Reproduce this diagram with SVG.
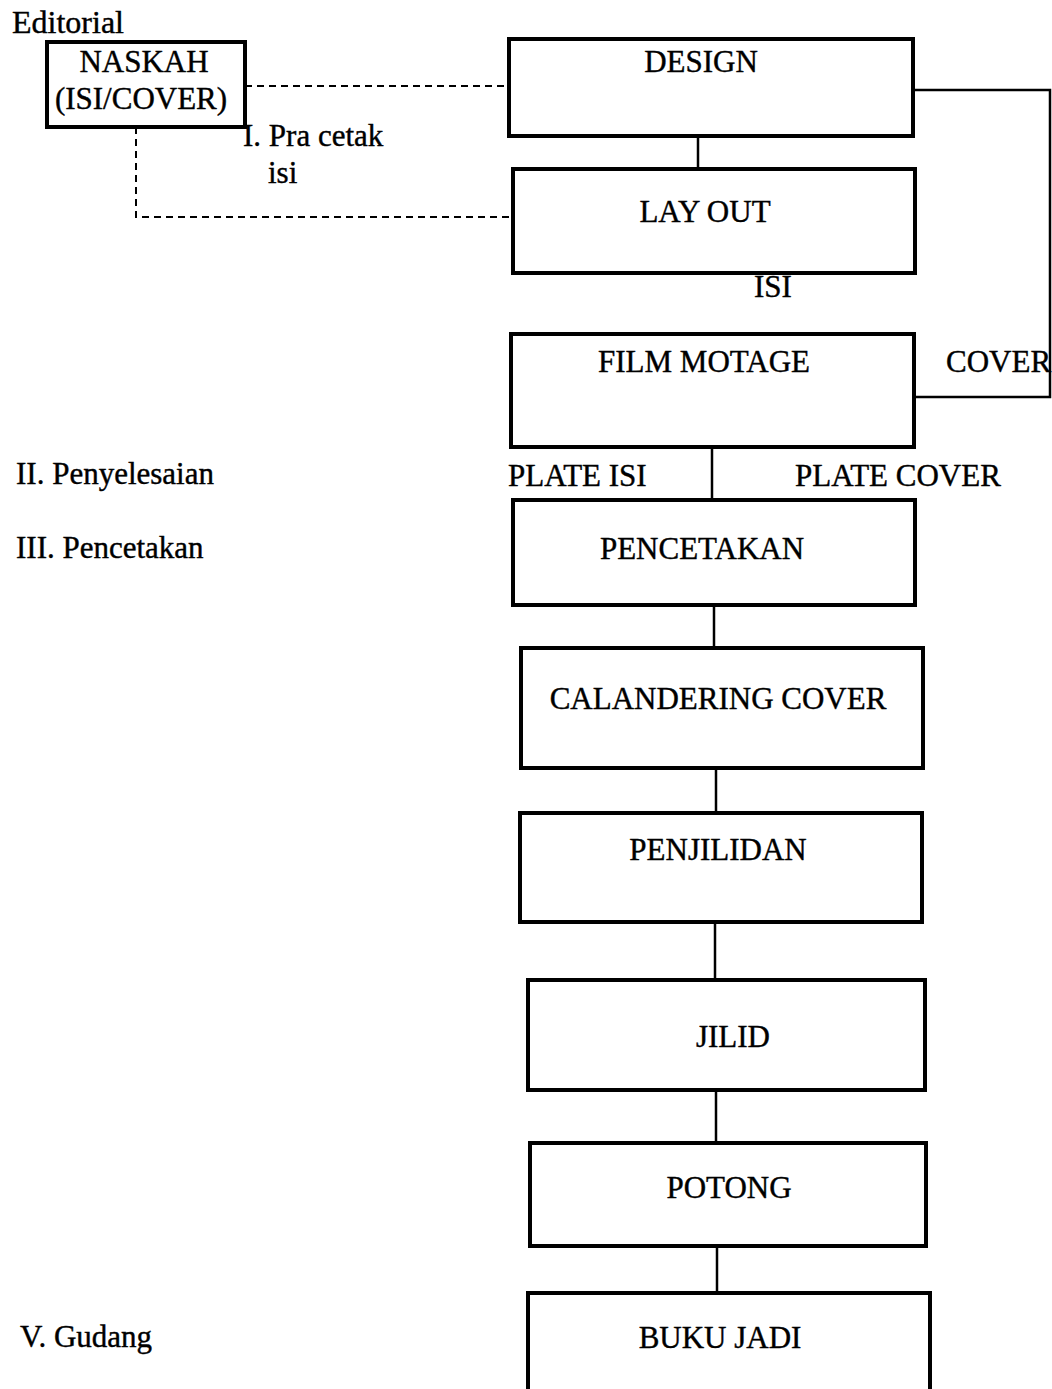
<svg xmlns="http://www.w3.org/2000/svg" width="1052" height="1389" viewBox="0 0 1052 1389">
<style>
text{font-family:"Liberation Serif","Times New Roman",serif;font-size:31px;fill:#000;stroke:#000;stroke-width:0.4}
.big{font-size:32px}
.box{fill:none;stroke:#000;stroke-width:4}
.ln{fill:none;stroke:#000;stroke-width:2.5}
.dash{fill:none;stroke:#000;stroke-width:2;stroke-dasharray:7 5}
</style>
<rect width="1052" height="1389" fill="#fff"/>
<g id="labels">
<text class="big" x="12" y="33">Editorial</text>
<text x="243" y="146">I. Pra cetak</text>
<text x="268" y="183">isi</text>
<text x="16" y="484">II. Penyelesaian</text>
<text x="16" y="558">III. Pencetakan</text>
<text x="20" y="1347">V. Gudang</text>
<text x="754" y="297">ISI</text>
<text x="946" y="372">COVER</text>
<text x="508" y="486">PLATE ISI</text>
<text x="795" y="486">PLATE COVER</text>
</g>
<g id="connectors">
<path class="dash" d="M245 86 H509"/>
<path class="dash" d="M136 127 V217 H513"/>
<path class="ln" d="M698 136 V169"/>
<path class="ln" d="M913 90 H1050 V397 H914"/>
<path class="ln" d="M712 447 V500"/>
<path class="ln" d="M714 605 V648"/>
<path class="ln" d="M716 768 V813"/>
<path class="ln" d="M715 922 V980"/>
<path class="ln" d="M716 1090 V1143"/>
<path class="ln" d="M717 1246 V1293"/>
</g>
<g id="naskah"><rect class="box" x="47" y="42" width="198" height="85"/><text x="144" y="72" text-anchor="middle">NASKAH</text><text x="141" y="109" text-anchor="middle">(ISI/COVER)</text></g>
<g id="design"><rect class="box" x="509" y="39" width="404" height="97"/><text x="701" y="72" text-anchor="middle">DESIGN</text></g>
<g id="layout"><rect class="box" x="513" y="169" width="402" height="104"/><text x="705" y="222" text-anchor="middle">LAY OUT</text></g>
<g id="film"><rect class="box" x="511" y="334" width="403" height="113"/><text x="704" y="372" text-anchor="middle">FILM MOTAGE</text></g>
<g id="pencetakan"><rect class="box" x="513" y="500" width="402" height="105"/><text x="702" y="559" text-anchor="middle">PENCETAKAN</text></g>
<g id="calandering"><rect class="box" x="521" y="648" width="402" height="120"/><text x="718" y="709" text-anchor="middle">CALANDERING COVER</text></g>
<g id="penjilidan"><rect class="box" x="520" y="813" width="402" height="109"/><text x="718" y="860" text-anchor="middle">PENJILIDAN</text></g>
<g id="jilid"><rect class="box" x="528" y="980" width="397" height="110"/><text x="733" y="1047" text-anchor="middle">JILID</text></g>
<g id="potong"><rect class="box" x="530" y="1143" width="396" height="103"/><text x="729" y="1198" text-anchor="middle">POTONG</text></g>
<g id="bukujadi"><rect class="box" x="528" y="1293" width="402" height="110"/><text x="720" y="1348" text-anchor="middle">BUKU JADI</text></g>
</svg>
